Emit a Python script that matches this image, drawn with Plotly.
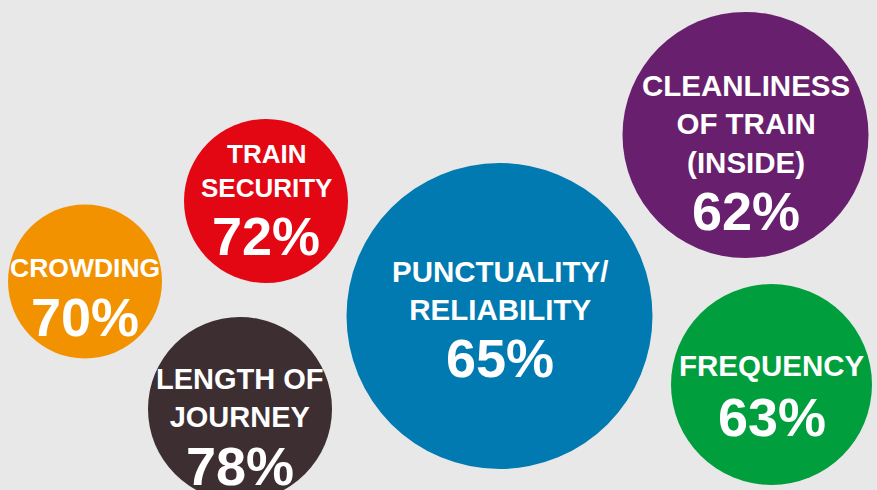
import plotly.graph_objects as go

# Data
factors = ["CROWDING", "TRAIN<br>SECURITY", "LENGTH OF<br>JOURNEY",
           "PUNCTUALITY/<br>RELIABILITY", "CLEANLINESS<br>OF TRAIN<br>(INSIDE)", "FREQUENCY"]
satisfaction = [70, 72, 78, 65, 62, 63]

# Layout (bubble placement in a 877x490 canvas coordinate system)
bubble_x = [85, 266, 240, 499.5, 745.5, 771.5]
bubble_y = [281.5, 201, 409, 316, 135, 384.5]
bubble_r = [77, 82, 92, 153, 123, 100.5]
label_y = [267.7, 171.4, 397.5, 290.8, 123.5, 365]
pct_y = [317, 235.7, 466, 358.3, 210.7, 416.7]
label_size = [26.5, 26, 29, 29.5, 29.5, 29.5]
pct_size = 54
colors = ["#F39200", "#E30613", "#3D2E32", "#007AB0", "#68206E", "#009E3D"]

W, H = 877, 490
fig = go.Figure()

# invisible trace to establish axes
fig.add_trace(go.Scatter(x=bubble_x, y=bubble_y, mode="markers",
                         marker=dict(size=1, opacity=0), hoverinfo="skip",
                         showlegend=False))

for i in range(len(factors)):
    fig.add_shape(type="circle", xref="x", yref="y",
                  x0=bubble_x[i] - bubble_r[i], x1=bubble_x[i] + bubble_r[i],
                  y0=bubble_y[i] - bubble_r[i], y1=bubble_y[i] + bubble_r[i],
                  fillcolor=colors[i], line=dict(width=0), layer="below")
    fig.add_annotation(x=bubble_x[i], y=label_y[i], xref="x", yref="y",
                       text="<b>%s</b>" % factors[i], showarrow=False,
                       xanchor="center", yanchor="middle", align="center",
                       font=dict(family="Liberation Sans, Arial, sans-serif",
                                 size=label_size[i], color="white"))
    fig.add_annotation(x=bubble_x[i], y=pct_y[i], xref="x", yref="y",
                       text="<b>%d%%</b>" % satisfaction[i], showarrow=False,
                       xanchor="center", yanchor="middle",
                       font=dict(family="Liberation Sans, Arial, sans-serif",
                                 size=pct_size, color="white"))

fig.update_xaxes(range=[0, W], visible=False, fixedrange=True)
fig.update_yaxes(range=[H, 0], visible=False, fixedrange=True)
fig.update_layout(width=W, height=H, margin=dict(l=0, r=0, t=0, b=0),
                  paper_bgcolor="#E8E8E8", plot_bgcolor="#E8E8E8",
                  showlegend=False)

fig.write_html("out.html")
